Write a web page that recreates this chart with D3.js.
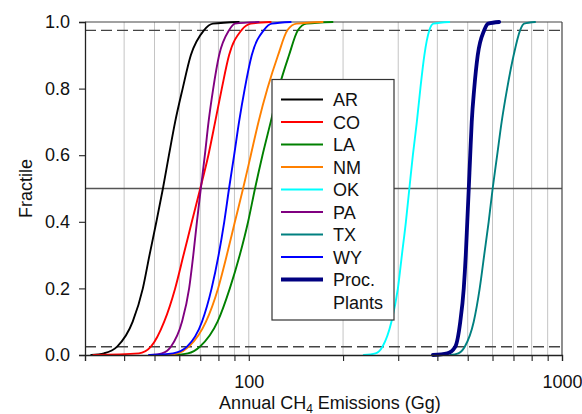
<!DOCTYPE html>
<html><head><meta charset="utf-8">
<script src="https://cdn.jsdelivr.net/npm/d3@7"></script>
<style>
body{margin:0;background:#fff}
svg{display:block;font-family:"Liberation Sans",Arial,sans-serif}
</style>
</head><body>
<svg id="chart" width="582" height="414"></svg>
<script>
// Fractile levels at which each curve was read (Gg values below)
const fractiles = [0, 0.005, 0.025, 0.1, 0.2, 0.3, 0.4, 0.5, 0.6, 0.7, 0.8, 0.9, 0.975, 0.995, 1];

const seriesNames = ["AR", "CO", "LA", "NM", "OK", "PA", "TX", "WY", "Proc. Plants"];
const seriesColors = ["#000000", "#ff0000", "#008000", "#ff8000", "#00ffff", "#800080", "#008080", "#0000ff", "#000080"];

const AR  = [31.4, 34.5, 38.0, 42.6, 45.9, 48.2, 50.7, 53.2, 55.6, 58.2, 61.5, 65.3, 71.9, 76.8, 92.9];
const CO  = [31.9, 44.6, 48.7, 53.7, 58.2, 61.9, 65.8, 70.0, 74.3, 78.1, 82.0, 86.5, 94.7, 101.5, 117.5];
const LA  = [57.3, 63.9, 69.8, 79.5, 87.0, 93.6, 99.5, 104.7, 110.6, 117.5, 124.6, 134.4, 143.5, 153.0, 185.1];
const NM  = [54.4, 59.4, 64.4, 73.0, 79.8, 85.1, 90.3, 95.9, 101.5, 107.4, 114.7, 124.0, 132.8, 142.2, 172.1];
const OK  = [232.8, 253.8, 267.2, 285.4, 299.3, 308.2, 317.4, 325.6, 334.1, 344.0, 353.0, 363.5, 377.1, 388.3, 436.5];
const PA  = [48.7, 52.8, 56.4, 61.2, 64.5, 66.5, 68.3, 70.3, 72.4, 74.4, 77.0, 80.4, 86.5, 90.3, 107.6];
const TX  = [439.8, 466.5, 489.3, 522.6, 546.1, 564.4, 583.3, 600.7, 620.9, 641.7, 668.1, 700.8, 734.9, 756.8, 820.4];
const WY  = [48.0, 57.3, 63.5, 70.9, 76.1, 80.1, 83.5, 86.5, 89.8, 93.1, 97.1, 102.2, 111.6, 118.4, 136.1];
const PROC = [387.0, 430.3, 456.3, 473.4, 485.7, 492.9, 498.4, 503.9, 509.3, 515.0, 524.5, 538.2, 564.4, 581.1, 630.2];

const seriesValues = [AR, CO, LA, NM, OK, PA, TX, WY, PROC];

const xDomain = [30, 1000];
const xTickValues = [30, 40, 50, 60, 70, 80, 90, 100, 200, 300, 400, 500, 600, 700, 800, 900, 1000];
const xGridValues = [40, 50, 60, 70, 80, 90, 100, 200, 300, 400, 500, 600, 700, 800, 900];
const xLabelValues = [100, 1000];
const yTickValues = [0, 0.2, 0.4, 0.6, 0.8, 1.0];
const dashedLevels = [0.025, 0.975];
const medianLevel = 0.5;

const W = 582, H = 414;
const m = {left: 85, right: 20, top: 22, bottom: 59};
const FS = 18;
const svg = d3.select("#chart");

const x = d3.scaleLog().domain(xDomain).range([m.left, W - m.right]);
const y = d3.scaleLinear().domain([0, 1]).range([H - m.bottom, m.top]);
const x0 = m.left, x1 = W - m.right, y0 = H - m.bottom, y1 = m.top;

// vertical grid lines
svg.append("g").selectAll("line").data(xGridValues).join("line")
  .attr("x1", d => x(d)).attr("x2", d => x(d))
  .attr("y1", y1).attr("y2", y0)
  .attr("stroke", "#c4c4c4").attr("stroke-width", 1);

// reference lines
svg.append("line").attr("x1", x0).attr("x2", x1)
  .attr("y1", y(medianLevel)).attr("y2", y(medianLevel))
  .attr("stroke", "#555").attr("stroke-width", 1.3);
svg.append("g").selectAll("line").data(dashedLevels).join("line")
  .attr("x1", x0).attr("x2", x1)
  .attr("y1", d => y(d)).attr("y2", d => y(d))
  .attr("stroke", "#444").attr("stroke-width", 1.4)
  .attr("stroke-dasharray", "11,5");

// frame top/right
svg.append("line").attr("x1", x0).attr("x2", x1).attr("y1", y1).attr("y2", y1)
  .attr("stroke", "#444").attr("stroke-width", 1.2);
svg.append("line").attr("x1", x1).attr("x2", x1).attr("y1", y1).attr("y2", y0)
  .attr("stroke", "#444").attr("stroke-width", 1.2);

// curves
const line = d3.line()
  .x(d => x(d[0])).y(d => y(d[1]))
  .curve(d3.curveMonotoneX);

seriesValues.forEach((vals, i) => {
  const pts = vals.map((v, k) => [v, fractiles[k]]);
  svg.append("path").datum(pts)
    .attr("d", line)
    .attr("fill", "none")
    .attr("stroke", seriesColors[i])
    .attr("stroke-width", i === 8 ? 3.8 : 1.9)
    .attr("stroke-linejoin", "round")
    .attr("stroke-linecap", "round");
});

// axes
const xAxis = d3.axisBottom(x).tickValues(xTickValues).tickSize(6).tickPadding(4)
  .tickFormat(d => xLabelValues.includes(d) ? d3.format("d")(d) : "");
const gx = svg.append("g").attr("transform", `translate(0,${y0})`).call(xAxis);
gx.select(".domain").attr("stroke", "#222").attr("stroke-width", 1.3);
gx.selectAll(".tick line").attr("stroke", "#222").attr("stroke-width", 1.1);
gx.selectAll("text").attr("font-size", FS).attr("fill", "#111")
  .attr("font-family", "Liberation Sans, Arial, sans-serif")
  .attr("y", 33).attr("dy", null);

const yAxis = d3.axisLeft(y).tickValues(yTickValues).tickSize(6).tickPadding(9)
  .tickFormat(d3.format(".1f"));
const gy = svg.append("g").attr("transform", `translate(${x0},0)`).call(yAxis);
gy.select(".domain").attr("stroke", "#222").attr("stroke-width", 1.3);
gy.selectAll(".tick line").attr("stroke", "#222").attr("stroke-width", 1.1);
gy.selectAll("text").attr("font-size", FS).attr("fill", "#111")
  .attr("font-family", "Liberation Sans, Arial, sans-serif");

// axis titles
const xt = svg.append("text").attr("x", 330).attr("y", 408.5)
  .attr("text-anchor", "middle").attr("font-size", FS).attr("fill", "#111");
xt.append("tspan").text("Annual CH");
xt.append("tspan").attr("font-size", 12).attr("dy", 4).text("4");
xt.append("tspan").attr("dy", -4).text(" Emissions (Gg)");

svg.append("text").attr("transform", `translate(32,${(y0 + y1) / 2}) rotate(-90)`)
  .attr("text-anchor", "middle").attr("font-size", FS).attr("fill", "#111")
  .text("Fractile");

// legend
const lg = svg.append("g");
lg.append("rect").attr("x", 272).attr("y", 79.5).attr("width", 122).attr("height", 240.5)
  .attr("fill", "#fff").attr("stroke", "#333").attr("stroke-width", 1.2);
seriesNames.forEach((name, i) => {
  const cy = 99.5 + i * 22.5;
  lg.append("line").attr("x1", 281).attr("x2", 323).attr("y1", cy).attr("y2", cy)
    .attr("stroke", seriesColors[i]).attr("stroke-width", i === 8 ? 3.8 : 2);
  const parts = name === "Proc. Plants" ? ["Proc.", "Plants"] : [name];
  parts.forEach((p, j) => {
    lg.append("text").attr("x", 333).attr("y", cy + 6.5 + j * 22.5)
      .attr("font-size", FS).attr("fill", "#111").text(p);
  });
});
</script>
</body></html>
